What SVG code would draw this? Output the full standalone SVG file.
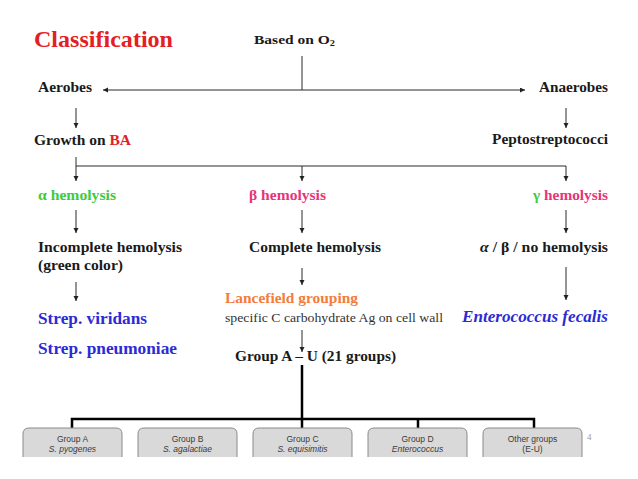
<svg xmlns="http://www.w3.org/2000/svg" width="638" height="479" viewBox="0 0 638 479">
<defs>
<marker id="ah" markerUnits="userSpaceOnUse" markerWidth="6" markerHeight="6" refX="5" refY="2.5" orient="auto">
<path d="M0,0 L5,2.5 L0,5 z" fill="#222"/>
</marker>
<style>
.t{font-family:"Liberation Serif","Times New Roman",serif;font-weight:bold;font-size:14.5px;fill:#1a1a1a}
.ln{stroke:#2a2a2a;stroke-width:1;fill:none}
.ar{stroke:#2a2a2a;stroke-width:1;fill:none;marker-end:url(#ah)}
.thick{stroke:#000;stroke-width:2.5;fill:none}
.box{fill:#d9d9d9;stroke:#8a8a8a;stroke-width:1}
.bt{font-family:"Liberation Sans",Arial,sans-serif;font-size:8.5px;fill:#3a3a3a;text-anchor:middle}
.bi{font-style:italic}
.red{fill:#e31e24}
.green{fill:#3ccc3c}
.pink{fill:#e8337a}
.orange{fill:#f47c3c}
.blue{fill:#2b2bd6}
</style>
</defs>
<rect width="638" height="479" fill="#fff"/>

<g id="connectors">
<line class="ln" x1="302" y1="56" x2="302" y2="90"/>
<line class="ar" x1="302" y1="90" x2="103" y2="90"/>
<line class="ar" x1="302" y1="90" x2="525" y2="90"/>
<line class="ar" x1="76" y1="108" x2="76" y2="128"/>
<line class="ar" x1="566" y1="108" x2="566" y2="128"/>
<polyline class="ln" points="76,157 76,166 566,166"/>
<line class="ar" x1="76" y1="166" x2="76" y2="181"/>
<line class="ar" x1="302" y1="166" x2="302" y2="181"/>
<line class="ar" x1="566" y1="166" x2="566" y2="181"/>
<line class="ar" x1="76" y1="210" x2="76" y2="233"/>
<line class="ar" x1="302" y1="210" x2="302" y2="233"/>
<line class="ar" x1="566" y1="210" x2="566" y2="233"/>
<line class="ar" x1="76" y1="282" x2="76" y2="301"/>
<line class="ar" x1="302" y1="268" x2="302" y2="285"/>
<line class="ar" x1="566" y1="267" x2="566" y2="300"/>
<line class="ar" x1="302" y1="330" x2="302" y2="352"/>
<line class="thick" x1="302" y1="365" x2="302" y2="419"/>
<polyline class="thick" points="72,428 72,419 534,419 534,428"/>
<line class="thick" x1="418" y1="419" x2="418" y2="428"/>
<line class="thick" x1="302" y1="419" x2="302" y2="428"/>
</g>

<g id="title"><text x="34" y="47" class="t red" style="font-size:24px" textLength="139" lengthAdjust="spacingAndGlyphs">Classification</text></g>
<g id="based"><text x="254" y="44" class="t" style="font-size:13.5px" textLength="81" lengthAdjust="spacingAndGlyphs">Based on O<tspan font-size="9" dy="2">2</tspan></text></g>
<g id="aerobes"><text x="38" y="92" class="t" textLength="54" lengthAdjust="spacingAndGlyphs">Aerobes</text></g>
<g id="anaerobes"><text x="539" y="92" class="t" textLength="69" lengthAdjust="spacingAndGlyphs">Anaerobes</text></g>
<g id="growth"><text x="34" y="145" class="t" textLength="97" lengthAdjust="spacingAndGlyphs">Growth on <tspan class="red">BA</tspan></text></g>
<g id="pepto"><text x="492" y="144" class="t" textLength="116" lengthAdjust="spacingAndGlyphs">Peptostreptococci</text></g>
<g id="alpha"><text x="38" y="200" class="t green" textLength="78" lengthAdjust="spacingAndGlyphs">α hemolysis</text></g>
<g id="beta"><text x="249" y="200" class="t pink" textLength="77" lengthAdjust="spacingAndGlyphs">β hemolysis</text></g>
<g id="gamma"><text x="533" y="200" class="t pink" textLength="75" lengthAdjust="spacingAndGlyphs"><tspan class="green">γ</tspan> hemolysis</text></g>
<g id="incomplete">
<text x="38" y="252" class="t" textLength="144" lengthAdjust="spacingAndGlyphs">Incomplete hemolysis</text>
<text x="38" y="270" class="t" textLength="85" lengthAdjust="spacingAndGlyphs">(green color)</text>
</g>
<g id="complete"><text x="249" y="252" class="t" textLength="132" lengthAdjust="spacingAndGlyphs">Complete hemolysis</text></g>
<g id="nohemo"><text x="480" y="252" class="t" textLength="128" lengthAdjust="spacingAndGlyphs"><tspan font-style="italic">α</tspan> / β / no hemolysis</text></g>
<g id="lancefield">
<text x="225" y="303" class="t orange" textLength="133" lengthAdjust="spacingAndGlyphs">Lancefield grouping</text>
<text x="225" y="322" class="t" style="font-weight:normal;font-size:12.5px;fill:#333" textLength="218" lengthAdjust="spacingAndGlyphs">specific C carbohydrate Ag on cell wall</text>
</g>
<g id="groupAU"><text x="235" y="361" class="t" textLength="161" lengthAdjust="spacingAndGlyphs">Group A – U (21 groups)</text></g>
<g id="viridans"><text x="38" y="324" class="t blue" style="font-size:16px" textLength="109" lengthAdjust="spacingAndGlyphs">Strep. viridans</text></g>
<g id="pneumoniae"><text x="38" y="354" class="t blue" style="font-size:16px" textLength="139" lengthAdjust="spacingAndGlyphs">Strep. pneumoniae</text></g>
<g id="entero"><text x="462" y="322" class="t blue" style="font-size:17px;font-style:italic" textLength="146" lengthAdjust="spacingAndGlyphs">Enterococcus fecalis</text></g>

<g id="boxA"><path class="box" d="M23,457 V434 Q23,428 29,428 H116 Q122,428 122,434 V457"/>
<text class="bt" x="72.5" y="442">Group A</text><text class="bt bi" x="72.5" y="452">S. pyogenes</text></g>
<g id="boxB"><path class="box" d="M138,457 V434 Q138,428 144,428 H231 Q237,428 237,434 V457"/>
<text class="bt" x="187.5" y="442">Group B</text><text class="bt bi" x="187.5" y="452">S. agalactiae</text></g>
<g id="boxC"><path class="box" d="M253,457 V434 Q253,428 259,428 H346 Q352,428 352,434 V457"/>
<text class="bt" x="302.5" y="442">Group C</text><text class="bt bi" x="302.5" y="452">S. equisimitis</text></g>
<g id="boxD"><path class="box" d="M368,457 V434 Q368,428 374,428 H461 Q467,428 467,434 V457"/>
<text class="bt" x="417.5" y="442">Group D</text><text class="bt bi" x="417.5" y="452">Enterococcus</text></g>
<g id="boxE"><path class="box" d="M483,457 V434 Q483,428 489,428 H576 Q582,428 582,434 V457"/>
<text class="bt" x="532.5" y="442">Other groups</text><text class="bt" x="532.5" y="452">(E-U)</text></g>
<g id="pagenum"><text x="587" y="440" style="font-family:'Liberation Serif',serif;font-size:9px;fill:#999">4</text></g>
</svg>
